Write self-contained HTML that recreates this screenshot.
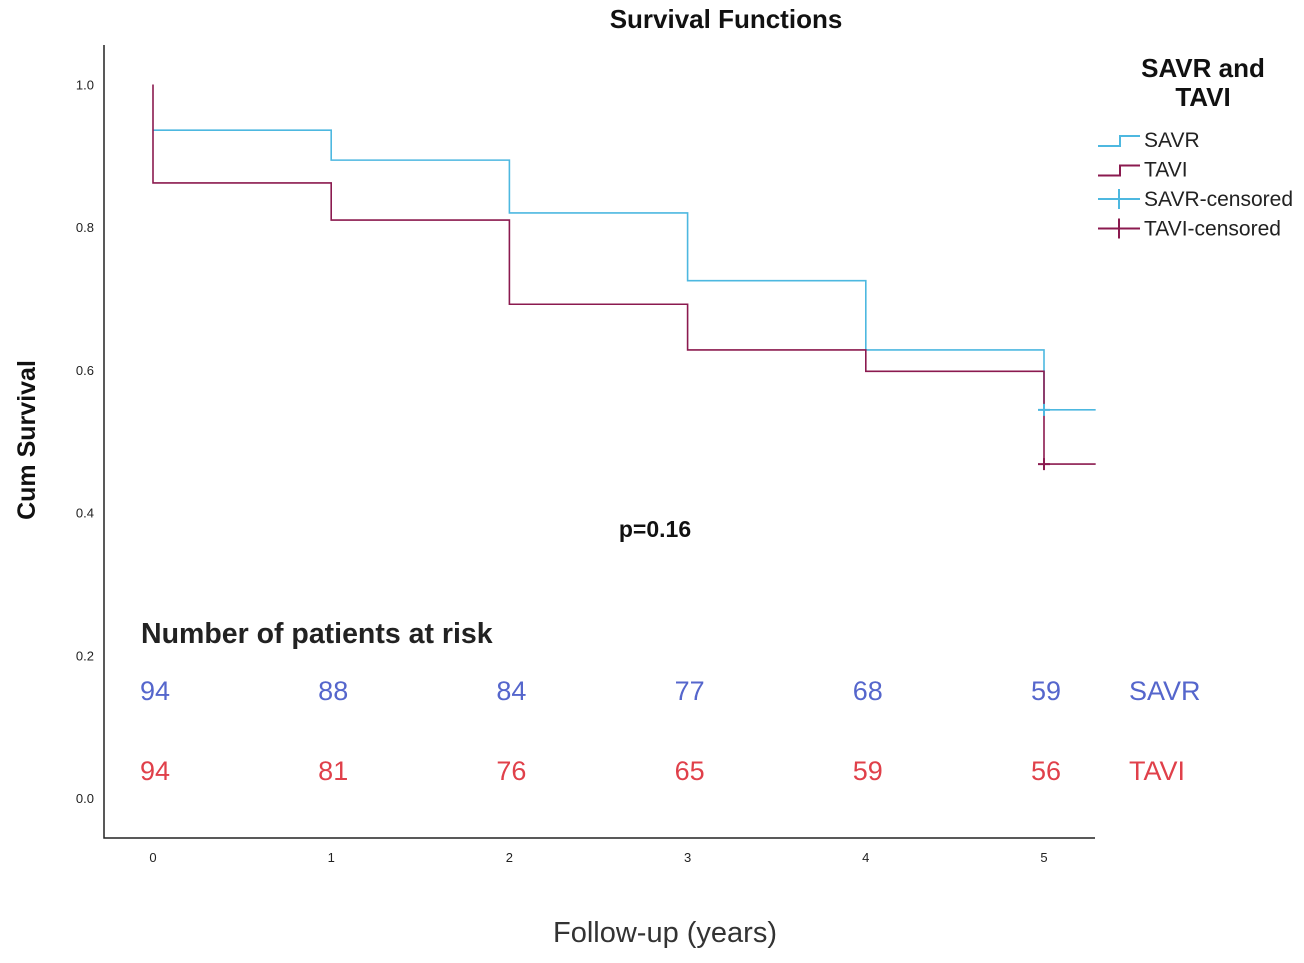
<!DOCTYPE html>
<html><head><meta charset="utf-8"><style>
body{margin:0;background:#fff;width:1304px;height:958px;overflow:hidden;font-family:"Liberation Sans",sans-serif}
</style></head><body>
<svg id="c" width="1304" height="958" xmlns="http://www.w3.org/2000/svg"></svg>
<script>
const years=[0,1,2,3,4,5];
const savrSurv=[0.936,0.894,0.820,0.725,0.628,0.544];
const taviStart=1.0;
const taviSurv=[0.862,0.810,0.692,0.628,0.598,0.468];
const yTicks=[0,0.2,0.4,0.6,0.8,1.0];
const savrRisk=[94,88,84,77,68,59];
const taviRisk=[94,81,76,65,59,56];
const endYear=5.29;
const X=v=>153+v*178.2, Y=v=>798-v*713.5;
const svg=document.getElementById('c'), NS="http://www.w3.org/2000/svg";
function el(t,a,txt){const e=document.createElementNS(NS,t);for(const k in a)e.setAttribute(k,a[k]);if(txt!==undefined)e.textContent=txt;svg.appendChild(e);return e;}
let e;
e=el('text',{x:726,y:28,'text-anchor':'middle','font-size':26,'font-weight':'bold',fill:'#111'},'Survival Functions');


e=el('path',{d:'M104 45V838H1095',stroke:'#222','stroke-width':1.5,fill:'none'});


yTicks.forEach(t=>{e=el('text',{x:94,y:Y(t)+5,'text-anchor':'end','font-size':13,fill:'#222'},t.toFixed(1));

});
years.forEach(t=>{e=el('text',{x:X(t),y:862,'text-anchor':'middle','font-size':13,fill:'#222'},t);

});
e=el('text',{x:0,y:0,transform:'translate(35,440) rotate(-90)','text-anchor':'middle','font-size':25,'font-weight':'bold',fill:'#111'},'Cum Survival');


e=el('text',{x:665,y:942,'text-anchor':'middle','font-size':29,fill:'#333'},'Follow-up (years)');


function step(vals,start){let d='M'+X(0)+' '+Y(start!==undefined?start:vals[0]);
 if(start!==undefined)d+='V'+Y(vals[0]);
 for(let i=1;i<vals.length;i++)d+='H'+X(years[i])+'V'+Y(vals[i]);
 d+='H'+X(endYear);return d;}
e=el('path',{d:step(savrSurv),stroke:'#4db8e0','stroke-width':1.6,fill:'none'});


e=el('path',{d:step(taviSurv,taviStart),stroke:'#8b1a4f','stroke-width':1.6,fill:'none'});


function cens(v,c){const x=X(5),y=Y(v);return el('path',{d:`M${x-6} ${y}H${x+6}M${x} ${y-6}V${y+6}`,stroke:c,'stroke-width':2});}
e=cens(savrSurv[5],'#4db8e0');


e=cens(taviSurv[5],'#8b1a4f');


e=el('text',{x:655,y:537,'text-anchor':'middle','font-size':23,'font-weight':'bold',fill:'#111'},'p=0.16');


e=el('text',{x:141,y:643,'font-size':28.5,'font-weight':'bold',fill:'#222'},'Number of patients at risk');


years.forEach((t,i)=>{e=el('text',{x:X(t)+2,y:700,'text-anchor':'middle','font-size':27,fill:'#5566cc'},savrRisk[i]);


e=el('text',{x:X(t)+2,y:780,'text-anchor':'middle','font-size':27,fill:'#e0404a'},taviRisk[i]);

});
e=el('text',{x:1129,y:700,'font-size':27,fill:'#5566cc'},'SAVR');


e=el('text',{x:1129,y:780,'font-size':27,fill:'#e0404a'},'TAVI');


e=el('text',{x:1203,y:77,'text-anchor':'middle','font-size':26,'font-weight':'bold',fill:'#111'},'SAVR and');


e=el('text',{x:1203,y:106,'text-anchor':'middle','font-size':26,'font-weight':'bold',fill:'#111'},'TAVI');


const leg=[['SAVR','#4db8e0',0],['TAVI','#8b1a4f',0],['SAVR-censored','#4db8e0',1],['TAVI-censored','#8b1a4f',1]];
leg.forEach((l,i)=>{const y=147+i*29.5;
 const d=l[2]?`M1098 ${y-7}H1140M1119 ${y-17}V${y+3}`:`M1098 ${y-1}H1120V${y-11}H1140`;
 e=el('path',{d:d,stroke:l[1],'stroke-width':2,fill:'none'});
 
 
 e=el('text',{x:1144,y:y,'font-size':21,fill:'#222'},l[0]);
 
 });
</script>
</body></html>
